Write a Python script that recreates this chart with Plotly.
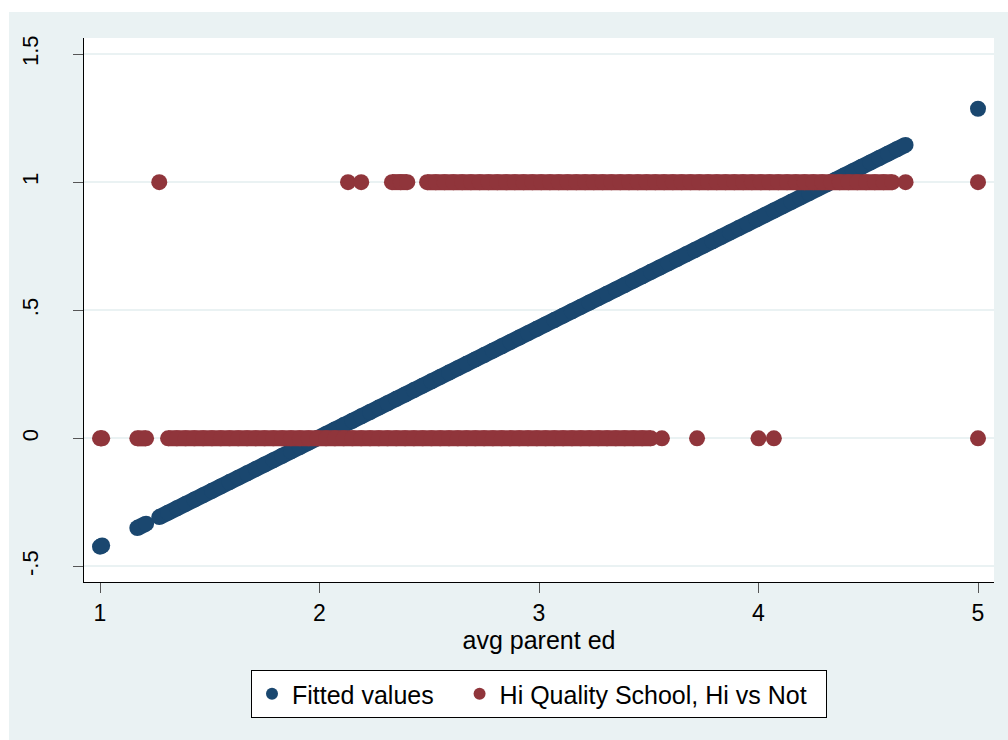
import plotly.graph_objects as go

# avg parent ed values carrying a fitted value, and the fitted values themselves
fitted_x = [1.00, 1.01, 1.17, 1.21, 1.27,
            1.31, 1.35, 1.39, 1.43, 1.47, 1.51, 1.55, 1.59, 1.63, 1.67, 1.71, 1.75, 1.79,
            1.83, 1.87, 1.91, 1.95, 1.99, 2.03, 2.07, 2.11, 2.15, 2.19, 2.23, 2.27, 2.31,
            2.35, 2.39, 2.43, 2.47, 2.51, 2.55, 2.59, 2.63, 2.67, 2.71, 2.75, 2.79, 2.83,
            2.87, 2.91, 2.95, 2.99, 3.03, 3.07, 3.11, 3.15, 3.19, 3.23, 3.27, 3.31, 3.35,
            3.39, 3.43, 3.47, 3.51, 3.55, 3.59, 3.63, 3.67, 3.71, 3.75, 3.79, 3.83, 3.87,
            3.91, 3.95, 3.99, 4.03, 4.07, 4.11, 4.15, 4.19, 4.23, 4.27, 4.31, 4.35, 4.39,
            4.43, 4.47, 4.51, 4.55, 4.59, 4.63, 4.67, 5.00]
fitted_y = [-0.4225, -0.4182, -0.3499, -0.3328, -0.3072,
            -0.2901, -0.2730, -0.2559, -0.2388, -0.2217, -0.2046, -0.1875, -0.1705, -0.1534,
            -0.1363, -0.1192, -0.1021, -0.0850, -0.0679, -0.0508, -0.0337, -0.0167, 0.0004,
            0.0175, 0.0346, 0.0517, 0.0688, 0.0859, 0.1030, 0.1200, 0.1371, 0.1542, 0.1713,
            0.1884, 0.2055, 0.2226, 0.2397, 0.2567, 0.2738, 0.2909, 0.3080, 0.3251, 0.3422,
            0.3593, 0.3764, 0.3935, 0.4105, 0.4276, 0.4447, 0.4618, 0.4789, 0.4960, 0.5131,
            0.5302, 0.5472, 0.5643, 0.5814, 0.5985, 0.6156, 0.6327, 0.6498, 0.6669, 0.6839,
            0.7010, 0.7181, 0.7352, 0.7523, 0.7694, 0.7865, 0.8036, 0.8207, 0.8377, 0.8548,
            0.8719, 0.8890, 0.9061, 0.9232, 0.9403, 0.9574, 0.9744, 0.9915, 1.0086, 1.0257,
            1.0428, 1.0599, 1.0770, 1.0941, 1.1111, 1.1282, 1.1453, 1.2863]

# avg parent ed of pupils at a high-quality school (outcome = 1)
hiq_yes_x = [1.27, 2.13, 2.19, 2.33, 2.37, 2.40,
             2.49, 2.53, 2.57, 2.61, 2.65, 2.69, 2.73, 2.77, 2.81, 2.85, 2.89, 2.93, 2.97,
             3.01, 3.05, 3.09, 3.13, 3.17, 3.21, 3.25, 3.29, 3.33, 3.37, 3.41, 3.45, 3.49,
             3.53, 3.57, 3.61, 3.65, 3.69, 3.73, 3.77, 3.81, 3.85, 3.89, 3.93, 3.97, 4.01,
             4.05, 4.09, 4.13, 4.17, 4.21, 4.25, 4.29, 4.33, 4.37, 4.41, 4.45, 4.49, 4.53,
             4.57, 4.61, 4.67, 5.00]
# avg parent ed of pupils not at a high-quality school (outcome = 0)
hiq_no_x = [1.00, 1.01, 1.17, 1.21,
            1.31, 1.35, 1.39, 1.43, 1.47, 1.51, 1.55, 1.59, 1.63, 1.67, 1.71, 1.75, 1.79,
            1.83, 1.87, 1.91, 1.95, 1.99, 2.03, 2.07, 2.11, 2.15, 2.19, 2.23, 2.27, 2.31,
            2.35, 2.39, 2.43, 2.47, 2.51, 2.55, 2.59, 2.63, 2.67, 2.71, 2.75, 2.79, 2.83,
            2.87, 2.91, 2.95, 2.99, 3.03, 3.07, 3.11, 3.15, 3.19, 3.23, 3.27, 3.31, 3.35,
            3.39, 3.43, 3.47, 3.51, 3.56, 3.72, 4.00, 4.07, 5.00]

x_ticks = [1, 2, 3, 4, 5]
y_ticks = [-0.5, 0, 0.5, 1, 1.5]
y_tick_text = ["-.5", "0", ".5", "1", "1.5"]

NAVY = "#1A476F"
MAROON = "#90353B"
BG = "#EAF2F3"
FONT = "Liberation Sans, Arial, sans-serif"
DOT = 16          # marker diameter, px
BAND = 16         # width of the stroke that fills between tightly packed dots
NBSP = "\u00a0"


def packed(xs, ys, gap=0.0405):
    """Break the point sequence where neighbours are farther apart than `gap`,
    so the filling stroke only joins dots that overlap anyway."""
    px, py = [], []
    for i, (a, b) in enumerate(zip(xs, ys)):
        if i and a - xs[i - 1] > gap:
            px.append(None)
            py.append(None)
        px.append(a)
        py.append(b)
    return px, py


fig = go.Figure()

fx, fy = packed(fitted_x, fitted_y)
fig.add_trace(go.Scatter(
    x=fx, y=fy, mode="lines+markers", showlegend=False, connectgaps=False,
    line=dict(color=NAVY, width=BAND),
    marker=dict(color=NAVY, size=DOT, line=dict(width=0)),
))
for row_x, row_val in ((hiq_yes_x, 1), (hiq_no_x, 0)):
    hx, hy = packed(row_x, [row_val] * len(row_x))
    fig.add_trace(go.Scatter(
        x=hx, y=hy, mode="lines+markers", showlegend=False, connectgaps=False,
        line=dict(color=MAROON, width=BAND),
        marker=dict(color=MAROON, size=DOT, line=dict(width=0)),
    ))

# legend keys
fig.add_trace(go.Scatter(
    x=[None], y=[None], mode="markers", name="Fitted values" + NBSP * 3,
    marker=dict(color=NAVY, size=12),
))
fig.add_trace(go.Scatter(
    x=[None], y=[None], mode="markers", name="Hi Quality School, Hi vs Not" + NBSP * 2,
    marker=dict(color=MAROON, size=12),
))

W, H = 1008, 740
L, R, T, B = 84, 14, 38, 158
pw, ph = W - L - R, H - T - B


def px_x(p):
    return (p - L) / pw


def px_y(p):
    return (H - B - p) / ph


# white page edge along the top and left of the graph region
fig.add_shape(type="rect", xref="paper", yref="paper", layer="below",
              x0=px_x(0), x1=px_x(9), y0=px_y(H), y1=px_y(0),
              fillcolor="white", line=dict(width=0))
fig.add_shape(type="rect", xref="paper", yref="paper", layer="below",
              x0=px_x(0), x1=px_x(W), y0=px_y(12), y1=px_y(0),
              fillcolor="white", line=dict(width=0))

fig.update_layout(
    width=W, height=H,
    margin=dict(l=L, r=R, t=T, b=B, pad=0),
    paper_bgcolor=BG, plot_bgcolor="white",
    font=dict(family=FONT, size=25, color="black"),
    showlegend=True,
    legend=dict(
        orientation="h", x=0.5, xanchor="center", y=px_y(670), yanchor="top",
        bgcolor="white", bordercolor="black", borderwidth=1,
        font=dict(family=FONT, size=25, color="black"),
        itemsizing="constant", itemwidth=30, tracegroupgap=0,
    ),
    xaxis=dict(
        range=[1 - 16 / 219.5, 5 + 16 / 219.5],
        tickvals=x_ticks, ticktext=[str(v) for v in x_ticks],
        showgrid=False, zeroline=False,
        showline=True, linecolor="black", linewidth=1,
        ticks="outside", ticklen=10, tickwidth=1, tickcolor="#555555",
        tickfont=dict(family=FONT, size=23, color="black"),
        title=dict(text="avg parent ed", standoff=2,
                   font=dict(family=FONT, size=25, color="black")),
    ),
    yaxis=dict(
        range=[-0.5 - 15.5 / 256, 1.5 + 16 / 256],
        tickvals=y_ticks, ticktext=y_tick_text, tickangle=-90,
        showgrid=True, gridcolor=BG, gridwidth=2, zeroline=False,
        showline=True, linecolor="black", linewidth=1,
        ticks="outside", ticklen=10, tickwidth=1, tickcolor="#555555",
        tickfont=dict(family=FONT, size=22, color="black"),
        ticklabelstandoff=26,
    ),
)

fig.write_html("out.html")
